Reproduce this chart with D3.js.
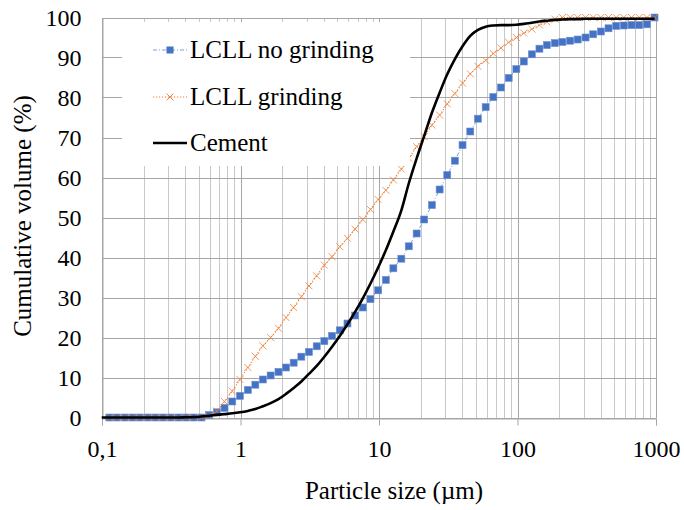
<!DOCTYPE html>
<html>
<head>
<meta charset="utf-8">
<script src="https://cdn.jsdelivr.net/npm/d3@7"></script>
<style>
  html, body { margin: 0; padding: 0; background: #fff; }
  svg { display: block; }
  text { font-family: "Liberation Serif", "Times New Roman", serif; fill: #000; }
</style>
</head>
<body>
<svg id="chart" width="684" height="510"></svg>
<script>
// Laser-diffraction size classes (µm)
const sizeUm = [
  0.113, 0.128, 0.146, 0.166, 0.188, 0.214, 0.243, 0.276, 0.314, 0.357, 0.405, 0.460, 0.523, 0.594, 0.675, 0.767, 0.872, 0.991,
  1.13, 1.28, 1.45, 1.65, 1.88, 2.13, 2.42, 2.75, 3.12, 3.55, 4.03, 4.58, 5.21, 5.92, 6.72, 7.64, 8.68, 9.86,
  11.2, 12.7, 14.5, 16.4, 18.7, 21.2, 24.1, 27.4, 31.1, 35.3, 40.1, 45.6, 51.8, 58.9, 66.9, 76.0, 86.4, 98.1,
  111, 127, 144, 163, 186, 211, 240, 272, 310, 352, 400, 454, 516, 586, 666, 756, 859, 976
];
const cementSizeUm = [0.0995].concat(sizeUm);

// Cumulative volume (%)
const lcllNoGrinding = [
  0, 0, 0, 0, 0, 0, 0, 0, 0, 0, 0, 0, 0, 0.6, 1.3, 2.4, 4.0, 5.4,
  6.9, 8.2, 9.5, 10.5, 11.4, 12.5, 13.7, 15.2, 16.4, 17.8, 19.1, 20.4, 21.8, 23.5, 25.5, 27.5, 29.6, 31.8,
  34.4, 37.3, 39.7, 42.8, 46.0, 49.5, 53.1, 57.0, 60.6, 64.2, 68.1, 71.5, 74.7, 77.6, 80.1, 82.5, 84.9, 87.1,
  89.0, 90.8, 92.2, 93.1, 93.6, 93.9, 94.2, 94.5, 95.0, 95.8, 96.5, 97.3, 97.9, 98.0, 98.1, 98.1, 98.3, 100
];
const lcllGrinding = [
  0, 0, 0, 0, 0, 0, 0, 0, 0, 0, 0, 0, 0, 0.4, 1.6, 4.0, 6.6, 9.5,
  12.5, 15.3, 17.9, 20.0, 22.3, 25.0, 27.5, 30.2, 32.9, 35.4, 38.1, 40.2, 42.7, 44.8, 47.1, 49.5, 52.0, 54.5,
  56.8, 59.4, 62.1, 64.8, 67.7, 70.2, 73.1, 75.6, 78.4, 81.0, 83.6, 85.9, 87.8, 89.3, 91.0, 92.4, 93.8, 95.0,
  96.1, 97.1, 98.1, 98.9, 99.6, 100, 100, 100, 100, 100, 100, 100, 100, 100, 100, 100, 100, 100
];
const cement = [
  0, 0, 0, 0, 0, 0, 0, 0, 0, 0, 0, 0.05, 0.1, 0.25, 0.45, 0.65, 0.85, 1.05, 1.3,
  1.65, 2.1, 2.8, 3.6, 4.6, 5.9, 7.4, 9.0, 10.9, 12.9, 15.2, 17.7, 20.4, 23.3, 26.4, 29.8, 33.5, 37.5,
  41.8, 46.5, 51.8, 58.5, 64.8, 70.4, 76.2, 81.2, 85.8, 89.6, 92.8, 95.4, 96.9, 97.7, 98.0, 98.1, 98.1, 98.2,
  98.4, 98.7, 99.0, 99.2, 99.4, 99.5, 99.6, 99.6, 99.7, 99.7, 99.7, 99.7, 99.7, 99.7, 99.7, 99.7, 99.7, 99.7
];

const seriesNames = ["LCLL no grinding", "LCLL grinding", "Cement"];
const xTickValues = [0.1, 1, 10, 100, 1000];
const xTickLabels = ["0,1", "1", "10", "100", "1000"];
const yTickValues = [0, 10, 20, 30, 40, 50, 60, 70, 80, 90, 100];
const xTitle = "Particle size (µm)";
const yTitle = "Cumulative volume (%)";

const svg = d3.select("#chart");
const plotLeft = 102, plotRight = 656, plotTop = 17.5, plotBottom = 417.5;

const x = d3.scaleLog().domain([0.1, 1000]).range([plotLeft, plotRight]);
const y = d3.scaleLinear().domain([0, 100]).range([plotBottom, plotTop]);

// gridlines
const grid = svg.append("g").attr("shape-rendering", "crispEdges");
grid.selectAll("line.v").data(x.ticks()).join("line")
  .attr("class", "v")
  .attr("x1", d => Math.round(x(d)) + 0.5).attr("x2", d => Math.round(x(d)) + 0.5)
  .attr("y1", plotTop).attr("y2", plotBottom)
  .attr("stroke", d => xTickValues.includes(d) ? "#a6a6a6" : "#c8c8c8")
  .attr("stroke-width", 1);
grid.selectAll("line.h").data(yTickValues).join("line")
  .attr("class", "h")
  .attr("x1", plotLeft).attr("x2", plotRight)
  .attr("y1", d => Math.round(y(d)) + 0.5).attr("y2", d => Math.round(y(d)) + 0.5)
  .attr("stroke", "#a6a6a6").attr("stroke-width", 1);

// axes
const xAxis = svg.append("g")
  .attr("transform", `translate(0,${Math.round(plotBottom) + 0.5})`)
  .call(d3.axisBottom(x).tickValues(xTickValues)
    .tickFormat((d, i) => xTickLabels[i]).tickSize(7).tickPadding(14));
xAxis.select(".domain").attr("stroke", "#a6a6a6");
xAxis.selectAll(".tick line").attr("stroke", "#a6a6a6");
xAxis.selectAll(".tick text").attr("font-size", 24)
  .attr("font-family", "Liberation Serif").attr("fill", "#000");

const yAxis = svg.append("g")
  .attr("transform", `translate(${plotLeft + 0.5},0)`)
  .call(d3.axisLeft(y).tickValues(yTickValues).tickSize(0).tickPadding(21));
yAxis.select(".domain").attr("stroke", "#a6a6a6");
yAxis.selectAll(".tick text").attr("font-size", 24)
  .attr("font-family", "Liberation Serif").attr("fill", "#000");

// axis titles
svg.append("text").attr("x", 394).attr("y", 499)
  .attr("text-anchor", "middle").attr("font-size", 25).text(xTitle);
svg.append("text")
  .attr("transform", `translate(31,216) rotate(-90)`)
  .attr("text-anchor", "middle").attr("font-size", 25).text(yTitle);

const plot = svg.append("g");
const blue = "#4472C4", orange = "#ED7D31";

// LCLL no grinding: squares with dash-dot connector
const ptsNo = sizeUm.map((d, i) => [d, lcllNoGrinding[i]]);
plot.append("path").datum(ptsNo)
  .attr("d", d3.line().x(d => x(d[0])).y(d => y(d[1])))
  .attr("fill", "none").attr("stroke", "#7f9fd9").attr("stroke-width", 1)
  .attr("stroke-dasharray", "4,2,1,2");
plot.selectAll("rect.sq").data(ptsNo).join("rect")
  .attr("class", "sq")
  .attr("x", d => x(d[0]) - 3.5).attr("y", d => y(d[1]) - 3.5)
  .attr("width", 7).attr("height", 7)
  .attr("fill", blue).attr("stroke", "#6f8fd0").attr("stroke-width", 0.6);

// LCLL grinding: crosses with dotted connector
const ptsGr = sizeUm.map((d, i) => [d, lcllGrinding[i]]);
plot.append("path").datum(ptsGr)
  .attr("d", d3.line().x(d => x(d[0])).y(d => y(d[1])))
  .attr("fill", "none").attr("stroke", orange).attr("stroke-width", 1.1)
  .attr("stroke-dasharray", "1.2,1.8");
const crossPath = "M-3.5,-3.5L3.5,3.5M-3.5,3.5L3.5,-3.5";
plot.selectAll("path.x").data(ptsGr).join("path")
  .attr("class", "x")
  .attr("transform", d => `translate(${x(d[0])},${y(d[1])})`)
  .attr("d", crossPath)
  .attr("fill", "none").attr("stroke", orange).attr("stroke-width", 0.9).attr("opacity", 0.85);

// Cement: smooth solid line
const ptsCem = cementSizeUm.map((d, i) => [d, cement[i]]);
plot.append("path").datum(ptsCem)
  .attr("d", d3.line().curve(d3.curveMonotoneX).x(d => x(d[0])).y(d => y(d[1])))
  .attr("fill", "none").attr("stroke", "#000").attr("stroke-width", 2.6)
  .attr("stroke-linejoin", "round");

// legend
const legend = svg.append("g");
legend.append("rect").attr("x", 122).attr("y", 22).attr("width", 288).attr("height", 144)
  .attr("fill", "#fff");
const rows = [50, 97, 143];
const sx0 = 153, sx1 = 187, sm = 170;
// row 1
legend.append("line").attr("x1", sx0).attr("x2", sx1).attr("y1", rows[0]).attr("y2", rows[0])
  .attr("stroke", "#7f9fd9").attr("stroke-width", 1).attr("stroke-dasharray", "4,2,1,2");
legend.append("rect").attr("x", sm - 3.5).attr("y", rows[0] - 3.5).attr("width", 7).attr("height", 7)
  .attr("fill", blue);
// row 2
legend.append("line").attr("x1", sx0).attr("x2", sx1).attr("y1", rows[1]).attr("y2", rows[1])
  .attr("stroke", orange).attr("stroke-width", 1.1).attr("stroke-dasharray", "1.2,1.8");
legend.append("path").attr("transform", `translate(${sm},${rows[1]})`).attr("d", crossPath)
  .attr("fill", "none").attr("stroke", orange).attr("stroke-width", 0.9);
// row 3
legend.append("line").attr("x1", sx0).attr("x2", sx1).attr("y1", rows[2]).attr("y2", rows[2])
  .attr("stroke", "#000").attr("stroke-width", 2.6);
legend.selectAll("text.lg").data(seriesNames).join("text")
  .attr("class", "lg")
  .attr("x", 190).attr("y", (d, i) => rows[i]).attr("dy", "0.33em")
  .attr("font-size", 25).text(d => d);
</script>
</body>
</html>
